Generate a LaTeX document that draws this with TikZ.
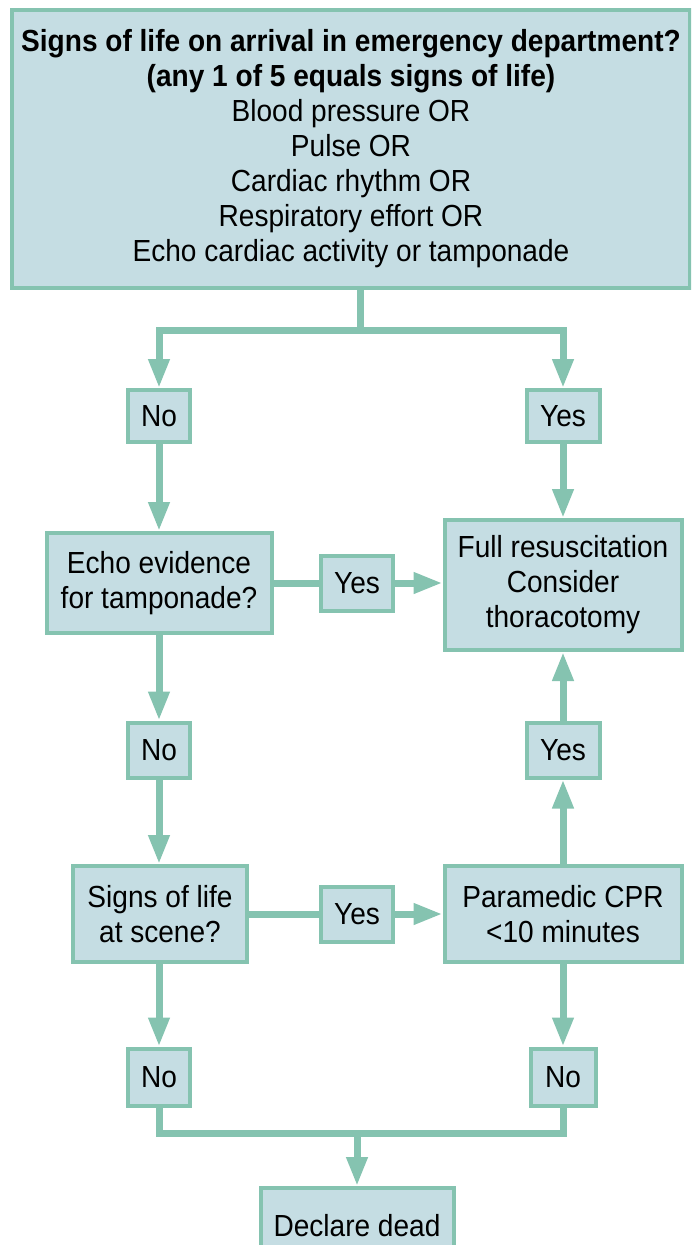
\documentclass[tikz,border=0pt]{standalone}
\usepackage{fontspec}
\setmainfont[FakeStretch=0.92]{Liberation Sans}
\usetikzlibrary{arrows.meta}
\definecolor{boxfill}{RGB}{197,221,227}
\definecolor{flowgreen}{RGB}{133,195,176}

\begin{document}
\begin{tikzpicture}[x=1pt, y=-1pt,
    box/.style={draw=flowgreen, fill=boxfill, line width=4pt, inner sep=0pt,
      align=center, font=\fontsize{30.5}{35}\selectfont},
    link/.style={color=flowgreen, line width=7pt},
    arr/.style={link, -{Triangle[width=20pt, length=29pt]}}]
    \useasboundingbox (0,0) rectangle (691,1245);
    \clip (0,0) rectangle (691,1245);
    \node[box, minimum width=678, minimum height=278] (arrival) at (351,149)
      {\textbf{Signs of life on arrival in emergency department?}\\
       \textbf{(any 1 of 5 equals signs of life)}\\
       Blood pressure OR\\Pulse OR\\Cardiac rhythm OR\\
       Respiratory effort OR\\Echo cardiac activity or tamponade};
    \node[box, minimum width=62, minimum height=52] (no1) at (159,416) {No};
    \node[box, minimum width=73, minimum height=52] (yes1) at (563,416) {Yes};
    \node[box, minimum width=237, minimum height=130] (full) at (563,585)
      {Full resuscitation\\Consider\\thoracotomy};
    \node[box, minimum width=225, minimum height=100] (echo) at (159,583)
      {Echo evidence\\for tamponade?};
    \node[box, minimum width=72, minimum height=55] (yesecho) at (357,583) {Yes};
    \node[box, minimum width=62, minimum height=55] (no2) at (159,750) {No};
    \node[box, minimum width=73, minimum height=55] (yes2) at (563,750) {Yes};
    \node[box, minimum width=174, minimum height=96] (scene) at (160,914)
      {Signs of life\\at scene?};
    \node[box, minimum width=72, minimum height=55] (yesscene) at (357,914) {Yes};
    \node[box, minimum width=237, minimum height=96] (para) at (563,914)
      {Paramedic CPR\\<10 minutes};
    \node[box, minimum width=62, minimum height=57] (no3) at (159,1077) {No};
    \node[box, minimum width=65, minimum height=57] (no4) at (563,1077) {No};
    \node[box, minimum width=193, minimum height=76] (dead) at (357,1226) {Declare dead};
    \coordinate (split) at (360,330);
    \coordinate (join) at (357,1133);
    \draw[link] (arrival.south -| split) -- (split);
    \draw[arr] (split) -| (no1);
    \draw[arr] (split) -| (yes1);
    \draw[arr] (no1) -- (echo);
    \draw[arr] (yes1) -- (full);
    \draw[link] (echo) -- (yesecho);
    \draw[arr] (yesecho) -- (yesecho -| full.west);
    \draw[arr] (echo) -- (no2);
    \draw[arr] (no2) -- (scene.north -| no2);
    \draw[link] (scene) -- (yesscene);
    \draw[arr] (yesscene) -- (para);
    \draw[arr] (para) -- (yes2);
    \draw[arr] (yes2) -- (full);
    \draw[arr] (scene.south -| no3) -- (no3);
    \draw[arr] (para) -- (no4);
    \draw[link] (no3) |- (join) -| (no4);
    \draw[arr] (join) -- (dead);
\end{tikzpicture}
\end{document}
